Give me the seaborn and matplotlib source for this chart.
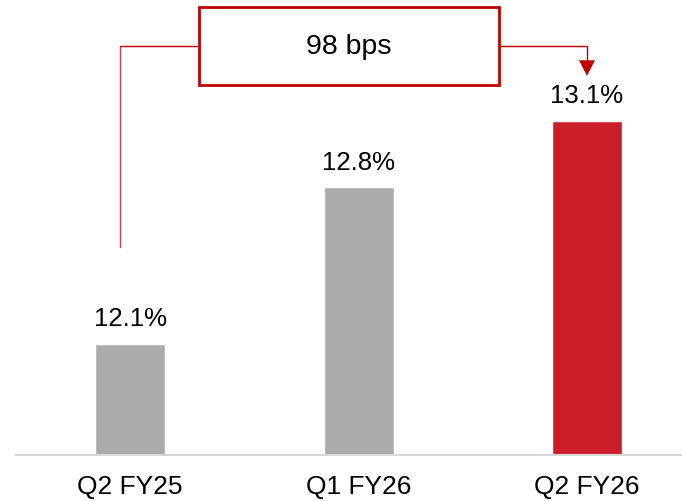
import matplotlib
matplotlib.use("Agg")
import matplotlib.pyplot as plt
import seaborn as sns
import pandas as pd
from matplotlib.patches import Rectangle, Polygon

categories = ["Q2 FY25", "Q1 FY26", "Q2 FY26"]
values = [12.1, 12.8, 13.1]
labels = ["12.1%", "12.8%", "13.1%"]
bar_colors = ["#ABABAB", "#ABABAB", "#CC1E29"]
change_text = "98 bps"

sns.set_theme(style="white")
plt.rcParams["font.family"] = ["Liberation Sans", "DejaVu Sans"]

df = pd.DataFrame({"cat": categories, "val": values})

fig = plt.figure(figsize=(6.82, 5.02), dpi=100)
ax = fig.add_axes([16/682, 46/502, 666/682, 456/502])

sns.barplot(data=df, x="cat", y="val", hue="cat", palette=bar_colors,
            width=0.306, legend=False, ax=ax, saturation=1)

ax.set_ylim(11.6, 11.6 + 456/223)
ax.set_xlim(-0.5, 2.416)
ax.set_xlabel("")
ax.set_ylabel("")
ax.set_yticks([])
for s in ["top", "right", "left"]:
    ax.spines[s].set_visible(False)
ax.spines["bottom"].set_color("#D9D9D9")
ax.spines["bottom"].set_linewidth(1.5)
ax.tick_params(axis="x", length=0, pad=14, labelsize=19, colors="#000000")

for i, (v, lab) in enumerate(zip(values, labels)):
    ax.annotate(lab, (i, v), xytext=(0, 13.5), textcoords="offset points",
                ha="center", va="baseline", fontsize=18.5, color="#000000")

# bracket annotation
red = "#C00000"
y_line = 13.434
x_left = -0.044
ax.plot([x_left, x_left], [12.533, y_line], color="#D8424A", lw=1.0, clip_on=False)
ax.plot([x_left, 0.302], [y_line, y_line], color=red, lw=1.0, clip_on=False)
ax.plot([1.615, 2.0], [y_line, y_line], color=red, lw=1.0, clip_on=False)
ax.plot([2.0, 2.0], [y_line, 13.37], color=red, lw=1.0, clip_on=False)
ax.add_patch(Polygon([[2.0 - 0.035, 13.37], [2.0 + 0.035, 13.37], [2.0, 13.30]],
                     closed=True, facecolor=red, edgecolor="none", clip_on=False))
ax.add_patch(Rectangle((0.302, 13.259), 1.615 - 0.302, 13.609 - 13.259,
                       facecolor="white", edgecolor=red, lw=2.0, clip_on=False))
ax.text((0.302 + 1.615) / 2, (13.259 + 13.609) / 2, change_text, ha="center",
        va="center", fontsize=20.5, color="#000000")

fig.savefig("out.png", dpi=100)
